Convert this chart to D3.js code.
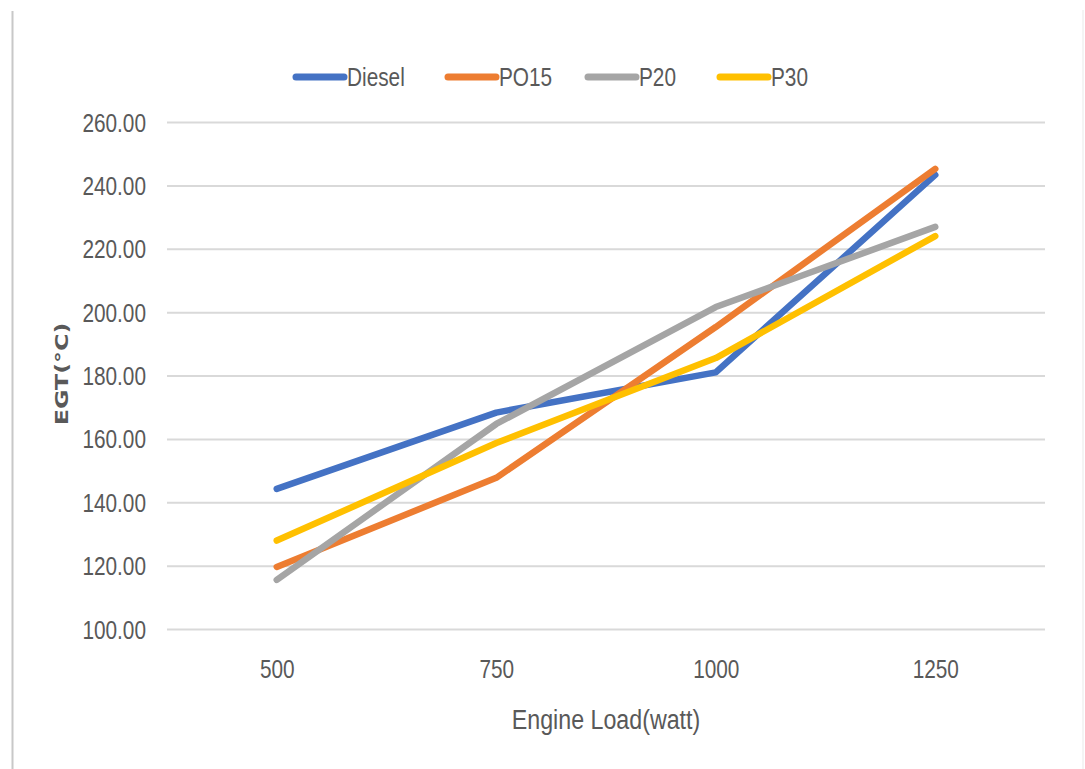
<!DOCTYPE html>
<html>
<head>
<meta charset="utf-8">
<script src="https://cdn.jsdelivr.net/npm/d3@7"></script>
<style>
  html, body { margin: 0; padding: 0; background: #ffffff; }
  svg { display: block; }
</style>
</head>
<body>
<svg id="chart" width="1085" height="769"></svg>
<script>
// Exhaust gas temperature vs engine load for four fuels
const loads = [500, 750, 1000, 1250];
const seriesNames = ["Diesel", "PO15", "P20", "P30"];
const diesel = [144.2, 168.3, 181.0, 243.3];
const po15   = [119.6, 147.7, 195.3, 245.2];
const p20    = [115.5, 164.7, 201.6, 226.9];
const p30    = [127.9, 158.7, 185.5, 224.0];
const yTicks = [100, 120, 140, 160, 180, 200, 220, 240, 260];
const colors = ["#4472C4", "#ED7D31", "#A5A5A5", "#FFC000"];

const seriesValues = [diesel, po15, p20, p30];
const series = seriesNames.map((name, i) => ({
  name, color: colors[i],
  points: loads.map((l, j) => ({ load: l, value: seriesValues[i][j] }))
}));

const svg = d3.select("#chart");
const W = 1085, H = 769;
const plot = { left: 167, right: 1045, top: 122, bottom: 629 };
const textGray = "#595959";
const narrow = 0.8;

// card background and frame
const defs = svg.append("defs");
const blur = defs.append("filter").attr("id", "soft").attr("x", "-50%").attr("width", "200%");
blur.append("feGaussianBlur").attr("stdDeviation", 1.6);

svg.append("rect").attr("width", W).attr("height", H).attr("fill", "#ffffff");
svg.append("line").attr("x1", 12).attr("x2", 1083).attr("y1", 10).attr("y2", 10)
  .attr("stroke", "#e6e6e6").attr("stroke-width", 1.5).attr("filter", "url(#soft)");
svg.append("line").attr("x1", 1083).attr("x2", 1083).attr("y1", 10).attr("y2", H)
  .attr("stroke", "#f0f0f0").attr("stroke-width", 1.5);
svg.append("line").attr("x1", 13).attr("x2", 13).attr("y1", 10).attr("y2", H)
  .attr("stroke", "#bdbdbd").attr("stroke-width", 3).attr("filter", "url(#soft)");
svg.append("line").attr("x1", 12.5).attr("x2", 12.5).attr("y1", 11).attr("y2", H)
  .attr("stroke", "#c8c8c8").attr("stroke-width", 2);

// scales
const x = d3.scalePoint().domain(loads).range([plot.left, plot.right]).padding(0.5);
const y = d3.scaleLinear().domain([100, 260]).range([plot.bottom, plot.top]);

// y axis with gridlines
const yAxis = svg.append("g")
  .attr("transform", `translate(${plot.left},0)`)
  .call(d3.axisLeft(y).tickValues(yTicks).tickFormat(d3.format(".2f"))
    .tickSize(-(plot.right - plot.left)).tickPadding(0));
yAxis.select(".domain").remove();
yAxis.selectAll(".tick line").attr("stroke", "#d9d9d9").attr("stroke-width", 2);
yAxis.selectAll(".tick text")
  .attr("x", -21 / narrow).attr("dy", "0.35em")
  .attr("transform", `scale(${narrow},1)`)
  .attr("fill", textGray)
  .style("font-family", "'Liberation Sans', Arial, sans-serif")
  .style("font-size", "26px");

// x axis labels
const xAxis = svg.append("g")
  .attr("transform", `translate(0,${plot.bottom})`)
  .call(d3.axisBottom(x).tickSize(0).tickPadding(0));
xAxis.select(".domain").remove();
xAxis.selectAll(".tick text")
  .attr("y", 40).attr("dy", "0.35em")
  .attr("transform", `scale(${narrow},1)`)
  .attr("fill", textGray)
  .style("font-family", "'Liberation Sans', Arial, sans-serif")
  .style("font-size", "26px");

// axis titles
svg.append("text")
  .attr("transform", `translate(606,719) scale(0.83,1)`)
  .attr("text-anchor", "middle").attr("dy", "0.35em")
  .attr("fill", textGray)
  .style("font-family", "'Liberation Sans', Arial, sans-serif")
  .style("font-size", "28px")
  .text("Engine Load(watt)");

svg.append("text")
  .attr("transform", `translate(62,374) rotate(-90) scale(1.32,1)`)
  .attr("text-anchor", "middle").attr("dy", "0.35em")
  .attr("fill", textGray)
  .style("font-family", "'DejaVu Sans', sans-serif")
  .style("font-weight", "bold")
  .style("font-size", "18px")
  .text("EGT(°C)");

// series lines
const line = d3.line().x(d => x(d.load)).y(d => y(d.value));
svg.append("g").selectAll("path").data(series).join("path")
  .attr("d", d => line(d.points))
  .attr("fill", "none")
  .attr("stroke", d => d.color)
  .attr("stroke-width", 6.5)
  .attr("stroke-linecap", "round")
  .attr("stroke-linejoin", "round");

// legend
const legendX = [296, 448, 588, 720];
const legend = svg.append("g").selectAll("g").data(series).join("g")
  .attr("transform", (d, i) => `translate(${legendX[i]},77)`);
legend.append("line")
  .attr("x1", 0).attr("x2", 48).attr("y1", 0).attr("y2", 0)
  .attr("stroke", d => d.color).attr("stroke-width", 7).attr("stroke-linecap", "round");
legend.append("text")
  .attr("transform", `translate(51,0) scale(${narrow},1)`)
  .attr("dy", "0.35em")
  .attr("fill", textGray)
  .style("font-family", "'Liberation Sans', Arial, sans-serif")
  .style("font-size", "26px")
  .text(d => d.name);
</script>
</body>
</html>
